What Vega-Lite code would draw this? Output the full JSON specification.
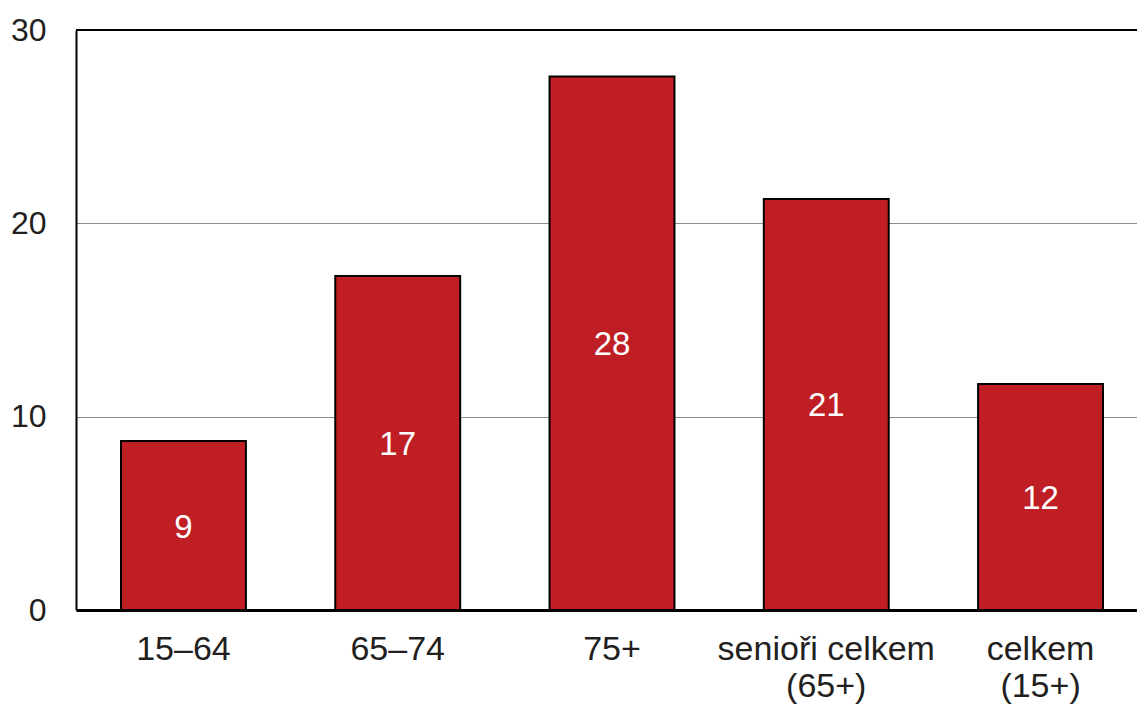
{
  "$schema": "https://vega.github.io/schema/vega-lite/v6.json",
  "width": 1061,
  "height": 580,
  "autosize": {"type": "none"},
  "padding": {"left": 76, "top": 30, "right": 0, "bottom": 94},
  "background": "white",
  "config": {"view": {"stroke": null}, "font": "Liberation Sans"},
  "data": {"values": [
    {"kat": "15–64", "hodnota": 8.74},
    {"kat": "65–74", "hodnota": 17.28},
    {"kat": "75+", "hodnota": 27.6},
    {"kat": "senioři celkem|(65+)", "hodnota": 21.26},
    {"kat": "celkem|(15+)", "hodnota": 11.69}
  ]},
  "encoding": {
    "x": {"field": "kat", "type": "nominal", "sort": null,
      "scale": {"range": [0, 1072], "paddingInner": 0.417, "paddingOuter": 0.21},
      "axis": {"title": null, "labelAngle": 0, "labelExpr": "split(datum.label, '|')",
        "labelFontSize": 34, "labelColor": "#231f20", "labelLineHeight": 37, "labelLimit": 0,
        "labelPadding": 22, "ticks": false, "domain": true, "domainColor": "black", "domainWidth": 3,
        "labelBaseline": "top", "labelOverlap": false}}
  },
  "layer": [
    {
      "mark": {"type": "bar", "color": "#be1e24", "stroke": "black", "strokeWidth": 2},
      "encoding": {
        "y": {"field": "hodnota", "type": "quantitative",
          "scale": {"domain": [0, 30]},
          "axis": {"title": null, "values": [0, 10, 20, 30], "labelFontSize": 32, "labelColor": "#231f20",
            "labelPadding": 30, "ticks": false, "domain": true, "domainColor": "black", "domainWidth": 2,
            "grid": true, "gridColor": "#8c8c8c", "gridWidth": 1.2}}
      }
    },
    {
      "transform": [{"calculate": "datum.hodnota / 2", "as": "mitte"}],
      "mark": {"type": "text", "color": "white", "fontSize": 33, "baseline": "middle", "dy": 2},
      "encoding": {
        "y": {"field": "mitte", "type": "quantitative"},
        "text": {"field": "hodnota", "type": "quantitative", "format": ".0f"}
      }
    },
    {
      "mark": {"type": "rule", "color": "black", "strokeWidth": 2},
      "encoding": {"y": {"datum": 30}, "x": {"value": 0}, "x2": {"value": 1061}}
    }
  ]
}
